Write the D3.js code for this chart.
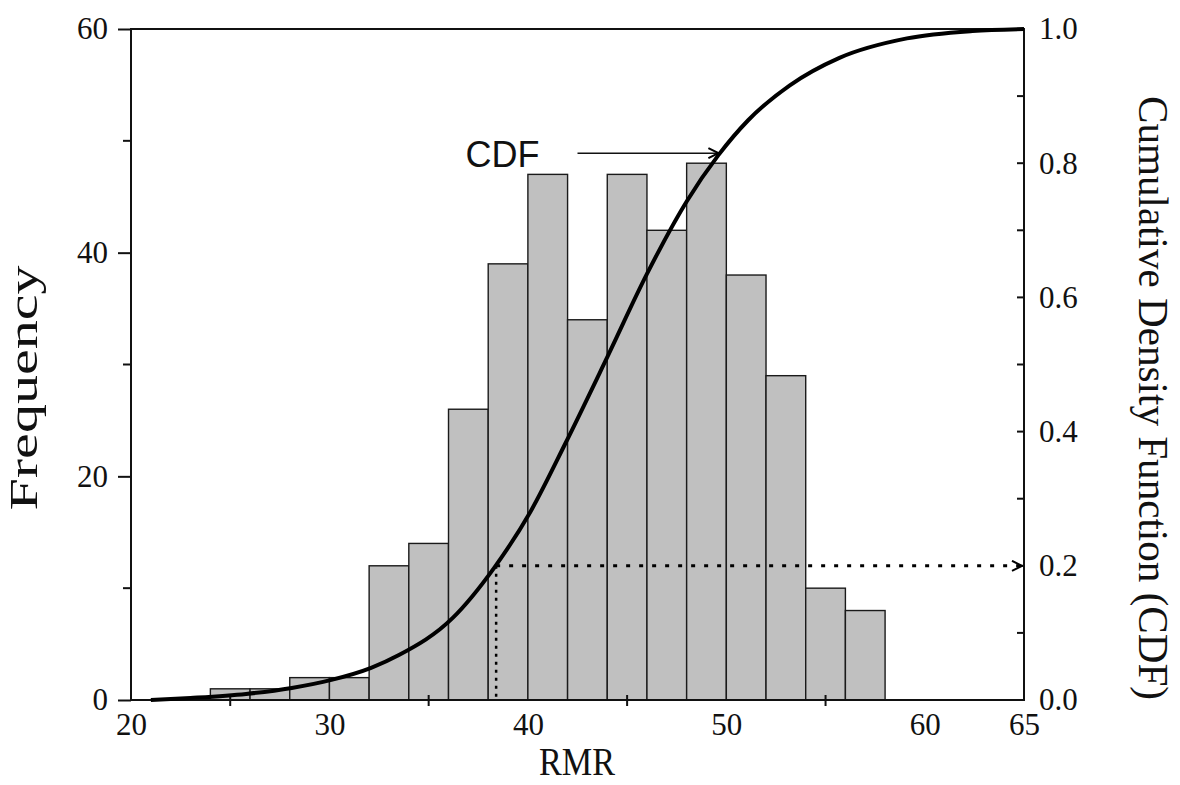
<!DOCTYPE html>
<html>
<head>
<meta charset="utf-8">
<style>
    body { margin: 0; background: #fff; }
    svg { display: block; }
    .serif { font-family: 'Liberation Serif', 'Times New Roman', serif; fill: #111; }
</style>
</head>
<body>
<svg width="1180" height="785"></svg>
<script src="https://d3js.org/d3.v7.min.js"></script>
<script>
    // histogram bins (left edge, width 2) and counts
    let binStart = [24, 26, 28, 30, 32, 34, 36, 38, 40, 42, 44, 46, 48, 50, 52, 54, 56];
    let freq = [1, 1, 2, 2, 12, 14, 26, 39, 47, 34, 47, 42, 48, 38, 29, 10, 8];
    let binWidth = 2;

    // cumulative curve
    let cdfX = [21, 23, 25.8, 28.1, 30.1, 32.1, 33.5, 36.2, 38.3, 40.1, 41.9, 44.0, 46.0, 48.0, 49.6, 51.1, 53.2, 55.7, 59.1, 62.4, 65];
    let cdfY = [0, 0.003, 0.009, 0.018, 0.03, 0.048, 0.067, 0.122, 0.197, 0.279, 0.383, 0.511, 0.635, 0.743, 0.812, 0.864, 0.916, 0.957, 0.986, 0.997, 1.0];

    let xTicks = [20, 30, 40, 50, 60, 65];
    let xMinor = [25, 35, 45, 55];
    let yLeftTicks = [0, 20, 40, 60];
    let yLeftMinor = [10, 30, 50];
    let yRightTicks = [0, 0.2, 0.4, 0.6, 0.8, 1.0];

    let marker = { x: 38.4, p: 0.2 };
    let note = { label: "CDF", x0: 42.5, x1: 49.6, p: 0.815 };

    let svg = d3.select("svg");
    let x = d3.scaleLinear().domain([20, 65]).range([131, 1024]);
    let yL = d3.scaleLinear().domain([0, 60]).range([700, 29]);
    let yR = d3.scaleLinear().domain([0, 1]).range([700, 29]);

    // bars
    svg.append("g")
        .selectAll("rect")
        .data(binStart)
        .join("rect")
        .attr("x", (d) => x(d))
        .attr("width", (d) => x(d + binWidth) - x(d))
        .attr("y", (d, i) => yL(freq[i]))
        .attr("height", (d, i) => yL(0) - yL(freq[i]))
        .attr("fill", "#c0c0c0")
        .attr("stroke", "#1a1a1a")
        .attr("stroke-width", 1.4);

    // frame
    svg.append("rect")
        .attr("x", x(20)).attr("y", yL(60))
        .attr("width", x(65) - x(20)).attr("height", yL(0) - yL(60))
        .attr("fill", "none").attr("stroke", "#111").attr("stroke-width", 2);

    // left axis
    let left = d3.axisLeft(yL).tickValues(yLeftTicks).tickSize(13).tickPadding(10).tickFormat(d3.format("d"));
    let gl = svg.append("g").attr("transform", `translate(${x(20)},0)`).call(left);
    gl.append("g").selectAll("line").data(yLeftMinor).join("line")
        .attr("x1", -8).attr("x2", 0).attr("y1", (d) => yL(d)).attr("y2", (d) => yL(d));

    // right axis
    let right = d3.axisRight(yR).tickValues(yRightTicks).tickSize(0).tickPadding(15).tickFormat(d3.format(".1f"));
    let gr = svg.append("g").attr("transform", `translate(${x(65)},0)`).call(right);
    gr.append("g").selectAll("line").data(d3.range(1, 10).map((d) => d / 10)).join("line")
        .attr("x1", -7).attr("x2", 0).attr("y1", (d) => yR(d)).attr("y2", (d) => yR(d));

    // bottom axis
    let bottom = d3.axisBottom(x).tickValues(xTicks).tickSize(0).tickPadding(13).tickFormat(d3.format("d"));
    let gb = svg.append("g").attr("transform", `translate(0,${yL(0)})`).call(bottom);
    gb.append("g").selectAll("line").data(xMinor).join("line")
        .attr("x1", (d) => x(d)).attr("x2", (d) => x(d)).attr("y1", -5).attr("y2", 6);

    [gl, gr, gb].forEach((g) => {
        g.select(".domain").remove();
        g.selectAll("line").attr("stroke", "#111").attr("stroke-width", 2);
        g.selectAll("text").attr("class", "serif").attr("font-size", 31).attr("fill", "#111");
    });

    // CDF curve
    let line = d3.line()
        .x((d, i) => x(cdfX[i]))
        .y((d) => yR(d))
        .curve(d3.curveMonotoneX);
    svg.append("path")
        .attr("d", line(cdfY))
        .attr("fill", "none")
        .attr("stroke", "#000")
        .attr("stroke-width", 4);

    // arrow heads
    let defs = svg.append("defs");
    defs.append("marker")
        .attr("id", "vhead")
        .attr("viewBox", "0 0 12 12")
        .attr("refX", 11).attr("refY", 6)
        .attr("markerWidth", 12).attr("markerHeight", 12)
        .attr("markerUnits", "userSpaceOnUse")
        .attr("orient", "auto")
        .append("path")
        .attr("d", "M1,1 L11,6 L1,11")
        .attr("fill", "none").attr("stroke", "#000").attr("stroke-width", 2);

    // dotted guide at CDF = 0.2
    svg.append("line")
        .attr("x1", x(marker.x)).attr("x2", x(65) - 2)
        .attr("y1", yR(marker.p)).attr("y2", yR(marker.p))
        .attr("stroke", "#000").attr("stroke-width", 3)
        .attr("stroke-dasharray", "4,9")
        .attr("marker-end", "url(#vhead)");
    svg.append("line")
        .attr("x1", x(marker.x)).attr("x2", x(marker.x))
        .attr("y1", yR(marker.p)).attr("y2", yL(0))
        .attr("stroke", "#000").attr("stroke-width", 2.5)
        .attr("stroke-dasharray", "3,5");

    // annotation
    svg.append("line")
        .attr("x1", x(note.x0)).attr("x2", x(note.x1))
        .attr("y1", yR(note.p)).attr("y2", yR(note.p))
        .attr("stroke", "#111").attr("stroke-width", 1.5)
        .attr("marker-end", "url(#vhead)");
    svg.append("text")
        .attr("x", x(note.x0) - 38).attr("y", yR(note.p) + 14)
        .attr("text-anchor", "end")
        .attr("font-family", "'Liberation Sans', Arial, sans-serif")
        .attr("font-size", 36)
        .attr("fill", "#111")
        .text(note.label);

    // axis titles (the source scan is stretched, so lengths are set explicitly)
    svg.append("text").attr("class", "serif")
        .attr("transform", "translate(577,775)")
        .attr("text-anchor", "middle").attr("font-size", 40)
        .attr("textLength", 76).attr("lengthAdjust", "spacingAndGlyphs")
        .text("RMR");
    svg.append("text").attr("class", "serif")
        .attr("transform", "translate(37,388) rotate(-90)")
        .attr("text-anchor", "middle").attr("font-size", 40)
        .attr("textLength", 245).attr("lengthAdjust", "spacingAndGlyphs")
        .text("Frequency");
    svg.append("text").attr("class", "serif")
        .attr("transform", "translate(1139,398) rotate(90)")
        .attr("text-anchor", "middle").attr("font-size", 43)
        .attr("textLength", 604).attr("lengthAdjust", "spacingAndGlyphs")
        .text("Cumulative Density Function (CDF)");
</script>
</body>
</html>
